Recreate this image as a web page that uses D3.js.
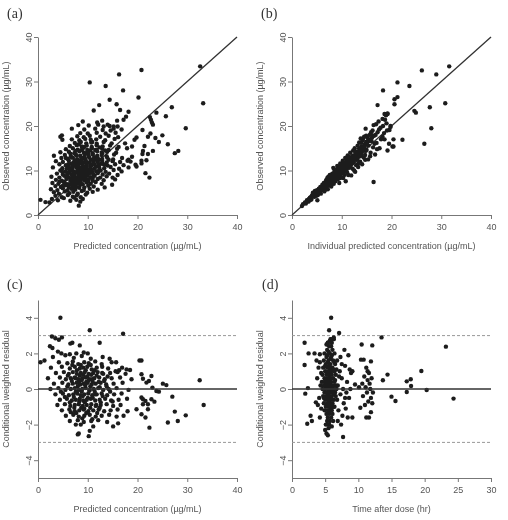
<!DOCTYPE html>
<html lang="en">
<head>
  <meta charset="UTF-8">
  <title>Goodness-of-fit plots</title>
  <script src="https://d3js.org/d3.v7.min.js"></script>
  <style>
    body { margin: 0; background: #fff; }
    .axis path, .axis line { stroke: #777; stroke-width: 1; }
    .axis text { fill: #555; font-family: "Liberation Sans", Arial, sans-serif; font-size: 9px; }
    .title { fill: #555; font-family: "Liberation Sans", Arial, sans-serif; font-size: 9px; }
    .letter { fill: #333; font-family: "Liberation Serif", "Times New Roman", serif; font-size: 14px; }
    .pt { fill: #1e1e1e; }
  </style>
</head>
<body>
<script>
// tick labels
var concTicks = [0, 10, 20, 30, 40];
var cwresTicks = [-4, -2, 0, 2, 4];
var timeTicks = [0, 5, 10, 15, 20, 25, 30];

// (a) predicted vs observed concentration
var panelA = [
  [0.5,3.4],[1.5,2.9],[2.3,2.8],[8.2,2.1],[8.5,3.0],[7.7,3.4],
  [2.8,3.6],[4.0,3.3],[5.2,3.8],[6.5,3.2],[7.3,3.9],[9.0,3.6],
  [3.5,4.3],[4.8,4.0],[6.0,4.5],[7.0,4.1],[7.8,4.4],[8.6,4.0],[9.6,4.6],
  [3.2,5.1],[4.2,4.8],[5.4,5.3],[6.3,4.9],[7.1,5.2],[8.0,4.8],[8.8,5.4],[9.9,5.0],[11.0,5.2],
  [2.6,5.8],[3.9,5.6],[5.0,6.0],[5.9,5.5],[6.7,5.9],[7.5,5.7],[8.3,6.1],[9.2,5.6],[10.4,5.9],[12.0,5.7],
  [3.5,6.5],[4.6,6.3],[5.5,6.7],[6.2,6.2],[7.0,6.6],[7.7,6.3],[8.5,6.8],[9.3,6.2],[10.1,6.6],[11.2,6.4],[13.4,6.2],
  [2.9,7.2],[4.1,7.0],[5.2,7.4],[6.0,6.9],[6.8,7.3],[7.5,7.0],[8.2,7.4],[9.0,6.9],[9.8,7.3],[10.6,7.0],[11.6,7.4],[12.8,7.0],[14.9,6.8],
  [3.6,7.9],[4.8,7.7],[5.7,8.1],[6.5,7.7],[7.2,8.0],[7.9,7.7],[8.6,8.1],[9.4,7.8],[10.2,8.0],[11.0,7.7],[12.0,8.1],[13.2,7.8],[15.5,8.0],
  [2.7,8.6],[4.3,8.4],[5.3,8.8],[6.1,8.4],[6.9,8.7],[7.6,8.3],[8.3,8.7],[9.0,8.4],[9.7,8.8],[10.5,8.5],[11.4,8.8],[12.5,8.4],[13.8,8.7],[15.0,8.4],
  [3.8,9.3],[5.0,9.1],[5.9,9.4],[6.7,9.1],[7.4,9.4],[8.1,9.0],[8.8,9.3],[9.5,9.0],[10.3,9.4],[11.1,9.1],[12.0,9.4],[13.0,9.1],[14.3,9.3],[16.0,9.0],
  [4.5,10.0],[5.5,9.8],[6.4,10.1],[7.2,9.7],[7.9,10.0],[8.6,9.7],[9.3,10.1],[10.0,9.8],[10.8,10.1],[11.7,9.8],[12.6,10.0],[13.6,9.7],[15.2,10.1],[16.8,9.8],
  [3.0,10.7],[4.9,10.5],[6.0,10.8],[6.9,10.4],[7.7,10.7],[8.4,10.4],[9.1,10.8],[9.8,10.5],[10.6,10.8],[11.4,10.4],[12.3,10.7],[13.3,10.5],[14.6,10.8],[16.3,10.4],[18.2,10.7],
  [4.3,11.4],[5.6,11.2],[6.6,11.5],[7.4,11.1],[8.2,11.4],[9.0,11.2],[9.8,11.5],[10.5,11.1],[11.3,11.4],[12.1,11.2],[13.0,11.5],[14.0,11.1],[15.5,11.4],[17.2,11.2],
  [3.6,12.1],[5.0,11.9],[6.2,12.2],[7.1,11.8],[8.0,12.1],[8.8,11.9],[9.6,12.2],[10.4,11.8],[11.2,12.1],[12.0,11.9],[12.9,12.2],[13.8,11.8],[15.0,12.1],[16.5,11.9],[18.0,12.2],
  [4.7,12.8],[6.0,12.6],[7.0,12.9],[7.9,12.5],[8.7,12.8],[9.5,12.6],[10.3,12.9],[11.1,12.5],[12.0,12.8],[12.9,12.6],[13.9,12.9],[15.1,12.5],[16.9,12.8],
  [3.2,13.3],[5.4,13.5],[6.6,13.2],[7.6,13.6],[8.5,13.3],[9.4,13.5],[10.2,13.2],[11.0,13.6],[11.9,13.3],[12.8,13.5],[13.8,13.2],[15.3,13.6],
  [4.5,14.1],[6.2,14.2],[7.3,13.9],[8.3,14.3],[9.2,14.0],[10.1,14.2],[11.0,13.9],[11.9,14.3],[12.8,14.0],[13.9,14.2],[15.7,14.0],
  [5.6,14.8],[7.0,15.0],[8.0,14.7],[9.0,14.9],[9.9,14.6],[10.8,15.0],[11.8,14.7],[12.9,14.9],[14.2,14.6],[15.9,14.9],
  [6.4,15.5],[7.8,15.7],[8.8,15.4],[9.8,15.6],[10.8,15.3],[11.8,15.7],[13.0,15.4],[14.5,15.6],[16.2,15.3],
  [7.4,16.2],[8.6,16.4],[9.7,16.1],[10.7,16.3],[11.8,16.0],[13.2,16.4],[14.8,16.1],
  [4.9,16.9],[6.8,17.0],[8.3,16.8],[9.5,17.1],[10.6,16.9],[11.7,17.0],[13.5,16.8],[15.4,17.1],
  [4.5,17.6],[4.8,17.9],[7.9,17.7],[9.2,17.5],[10.4,17.8],[12.5,17.6],[14.2,17.8],[16.1,17.5],
  [8.5,18.4],[10.0,18.3],[11.8,18.5],[13.6,18.3],[15.6,18.5],
  [6.8,19.4],[9.3,19.2],[11.5,19.4],[13.0,19.1],[15.2,19.4],[16.8,19.2],
  [8.1,20.2],[10.2,20.1],[12.1,20.3],[14.4,20.0],
  [9.0,21.0],[11.9,20.8],
  [7.8,9.6],[8.3,8.9],[8.9,10.3],[7.3,8.6],[9.4,9.5],[8.0,10.9],[8.7,8.1],[7.0,9.9],[9.6,10.9],[8.4,11.8],[7.6,7.6],[10.0,9.0],[6.6,8.0],[9.2,11.8],[8.1,7.0],
  [6.3,9.6],[7.0,11.0],[7.9,8.2],[8.5,10.6],[9.2,9.8],[9.9,11.8],[10.6,12.4],[11.3,13.0],[10.9,9.6],[8.9,12.7],
  [7.4,12.3],[6.1,11.4],[6.8,8.2],[5.4,7.2],[5.8,10.4],[9.6,8.3],[10.3,10.2],[11.6,10.9],[12.3,12.4],[12.9,13.9],
  [11.5,14.6],[10.5,14.5],[9.5,13.9],[8.8,14.6],[7.8,13.3],[6.8,12.9],[5.6,12.8],[4.9,9.7],[4.3,7.5],[5.0,6.6],
  [6.3,6.8],[7.4,6.0],[8.6,7.4],[9.2,8.7],[10.1,7.5],[11.0,8.3],[12.2,9.9],[13.4,11.3],[14.2,12.4],[13.5,14.5],
  [12.4,15.2],[10.9,16.4],[9.3,15.3],[8.2,15.9],[7.5,14.4],[6.5,13.8],[5.9,8.9],[7.1,7.6],[8.0,8.5],[8.6,9.0],
  [9.0,10.0],[9.8,10.9],[10.7,11.3],[11.8,12.5],[7.7,11.5],[6.4,10.6],[8.3,12.2],[9.3,12.9],[10.1,13.7],[12.6,11.5],
  [10.4,29.8],[16.3,31.6],[20.8,32.6],[13.6,29.0],[17.1,28.0],[32.6,33.4],[33.2,25.1],[29.7,19.5],[26.9,24.2],[20.2,26.4],
  [14.4,25.9],[15.8,24.9],[12.3,24.7],[11.2,23.5],[25.7,22.2],[23.8,23.0],[27.5,13.9],[28.2,14.4],[26.1,15.9],[25.0,17.9],
  [24.3,16.4],[22.6,18.3],[22.1,17.6],[21.0,19.1],[22.5,22.0],[22.7,21.4],[22.9,20.8],[23.1,20.3],[20.8,11.6],[22.4,8.4],
  [21.6,9.4],[21.8,12.3],[21.0,13.7],[21.1,14.4],[21.4,15.5],[23.1,14.4],[22.1,13.7],[20.8,12.2],[19.8,17.4],[19.8,10.9],
  [19.6,11.3],[18.9,13.1],[19.4,16.9],[18.9,15.4],[18.2,12.4],[18.6,12.0],[17.9,15.0],[17.5,16.1],[17.7,22.1],[17.2,21.4],
  [18.2,23.2],[16.5,23.6],[15.9,21.2],[16.0,19.9],[15.2,19.9],[14.6,19.0],[14.0,20.3],[13.2,19.9],[12.9,21.2],[23.6,17.3]
];

// (b) individual predicted vs observed concentration
var panelB = [
  [2.2,2.4],[2.6,2.8],[3.0,3.3],[3.3,3.0],[3.6,3.9],[3.9,3.5],[4.0,4.4],[4.2,5.0],[4.5,4.1],[4.8,4.9],
  [5.0,5.6],[5.1,3.3],[5.2,4.5],[5.4,5.9],[5.5,5.2],[5.7,6.3],[5.8,4.8],[6.0,5.6],[6.1,6.8],[6.3,6.0],
  [6.4,7.2],[6.5,5.3],[6.6,6.5],[6.8,7.6],[6.9,6.1],[7.0,7.0],[7.1,8.3],[7.2,5.8],[7.3,7.4],[7.4,6.6],
  [7.5,8.0],[7.6,9.0],[7.7,7.2],[7.8,8.5],[7.9,6.4],[8.0,7.8],[8.1,9.3],[8.2,8.2],[8.3,10.6],[8.4,7.0],
  [8.5,8.8],[8.6,9.7],[8.7,7.6],[8.8,10.2],[8.9,8.4],[9.0,9.0],[9.1,11.0],[9.2,8.0],[9.3,9.6],[9.4,10.5],
  [9.5,7.2],[9.6,9.2],[9.7,11.6],[9.8,8.6],[9.9,10.0],[10.0,10.8],[10.1,9.4],[10.2,12.2],[10.3,8.3],[10.4,10.4],
  [10.5,11.4],[10.6,9.8],[10.7,12.8],[10.8,7.6],[10.9,11.0],[11.0,10.2],[11.1,12.0],[11.2,13.4],[11.3,9.0],[11.4,11.6],
  [11.5,10.6],[11.6,12.6],[11.7,14.0],[11.8,11.2],[11.9,8.9],[12.0,12.2],[12.1,13.2],[12.2,10.4],[12.3,14.5],[12.4,11.8],
  [12.5,12.8],[12.6,15.0],[12.7,9.7],[12.8,13.6],[12.9,11.2],[13.0,14.2],[13.1,12.4],[13.2,15.6],[13.3,10.8],[13.4,13.2],
  [13.5,16.3],[13.6,14.8],[13.7,12.0],[13.8,17.2],[13.9,13.8],[14.0,15.4],[14.1,11.4],[14.2,16.8],[14.3,14.4],[14.4,12.9],
  [14.5,17.6],[14.6,15.9],[14.7,13.5],[14.8,19.4],[14.9,16.4],[15.0,14.6],[15.2,17.3],[15.3,12.5],[15.4,15.6],[15.6,18.0],
  [15.8,14.0],[16.0,16.6],[16.2,19.0],[16.3,15.2],[16.5,17.8],[16.7,13.6],[16.9,20.4],[17.0,16.2],[17.2,18.6],[17.4,21.0],
  [17.6,15.0],[17.8,19.6],[18.0,17.2],[18.2,21.6],[18.5,18.4],[18.8,22.6],[19.0,20.6],[19.2,22.8],[19.5,16.0],
  [2.0,2.0],[2.8,2.6],[3.4,3.6],[3.8,4.0],[4.3,4.6],[4.6,5.4],[4.9,4.3],[5.3,5.4],[5.6,5.8],[5.9,6.0],
  [6.2,6.4],[6.5,6.9],[6.7,5.7],[6.9,7.9],[7.1,6.8],[7.3,8.6],[7.5,7.6],[7.7,6.9],[7.9,8.8],[8.1,7.4],
  [8.3,9.0],[8.5,10.2],[8.7,8.1],[8.9,9.5],[9.1,8.7],[9.3,10.9],[9.5,9.8],[9.7,8.3],[9.9,11.2],[10.1,10.3],
  [10.3,11.8],[10.5,9.0],[10.7,10.6],[10.9,12.4],[11.1,9.5],[11.3,11.8],[11.5,13.0],[11.7,10.8],[11.9,12.8],[12.1,11.6],
  [12.3,13.4],[12.5,10.0],[12.7,14.2],[12.9,12.4],[13.1,13.8],[13.3,11.6],[13.5,15.0],[13.7,13.2],[13.9,16.2],[14.1,14.6],
  [14.3,17.2],[14.5,15.2],[14.7,12.4],[14.9,17.8],[15.1,15.8],[15.5,16.9],[15.7,13.2],[15.9,18.6],[16.1,17.4],[16.4,20.2],
  [16.6,16.0],[16.8,18.0],[17.1,14.8],[17.5,19.2],[17.9,17.0],[18.3,20.0],[18.7,21.4],[19.1,19.0],[19.8,19.8],[20.2,15.4],
  [9.6,10.4],[10.2,11.0],[9.0,9.7],[10.8,11.6],[11.6,11.9],[8.4,9.4],[10.5,10.2],[11.0,12.5],[12.2,12.6],[9.8,9.4],
  [6.6,7.0],[7.0,7.5],[7.4,7.9],[7.8,8.0],[8.2,8.6],[8.6,9.1],[9.0,9.4],[9.4,9.9],[9.8,10.5],[10.2,10.8],
  [10.6,11.2],[11.0,11.5],[11.4,12.2],[11.8,12.4],[12.2,13.0],[12.6,13.3],[13.0,13.5],[13.4,14.1],[13.8,14.5],[14.2,15.1],
  [14.6,15.6],[15.0,16.2],[15.4,16.6],[15.8,17.0],[16.2,17.8],[6.8,6.5],[7.6,7.0],[8.4,8.2],[9.2,9.0],[10.0,9.7],
  [10.8,10.4],[11.6,11.0],[12.4,11.9],[13.2,12.8],[14.0,13.6],[14.8,14.4],[5.4,5.0],[5.0,5.1],[4.4,4.2],[3.6,3.3],
  [31.6,33.4],[26.1,32.5],[29.0,31.6],[21.2,29.8],[23.6,29.0],[18.3,28.0],[21.2,26.5],[20.6,26.0],[20.6,24.9],[17.2,24.7],
  [24.6,23.4],[24.9,23.0],[27.7,24.2],[30.8,25.1],[28.0,19.5],[26.6,16.0],[22.2,16.9],[20.4,17.0],[20.4,15.4],[19.2,14.5],
  [16.4,7.4],[18.6,22.7],[18.9,22.4],[19.2,22.7],[19.8,20.0],[19.6,19.1],[18.2,17.6],[18.6,17.0]
];

// (c) predicted concentration vs CWRES
var panelC = [
  [3.0,1.8],[5.5,1.9],[7.2,1.75],[8.8,1.85],[10.6,1.7],[13.0,1.8],
  [4.2,1.5],[5.9,1.45],[7.0,1.55],[8.1,1.4],[9.3,1.5],[10.2,1.45],[11.5,1.55],[12.8,1.4],[14.8,1.5],
  [2.6,1.2],[4.8,1.25],[6.4,1.15],[7.4,1.25],[8.4,1.15],[9.1,1.2],[9.9,1.25],[10.8,1.1],[11.8,1.2],[12.9,1.25],[14.1,1.15],[16.9,1.2],
  [3.6,0.9],[5.2,0.95],[6.2,0.85],[7.0,0.95],[7.8,0.85],[8.6,0.9],[9.4,0.95],[10.2,0.85],[11.1,0.9],[12.0,0.95],[13.1,0.85],[14.5,0.9],[16.0,0.95],[17.6,0.85],
  [2.0,0.6],[4.4,0.65],[5.6,0.55],[6.6,0.6],[7.4,0.65],[8.1,0.55],[8.9,0.6],[9.6,0.65],[10.4,0.55],[11.3,0.6],[12.3,0.65],[13.4,0.55],[14.8,0.6],[16.5,0.65],[18.8,0.55],
  [3.2,0.3],[4.9,0.35],[6.1,0.25],[7.0,0.3],[7.8,0.35],[8.5,0.25],[9.2,0.3],[10.0,0.35],[10.8,0.25],[11.6,0.3],[12.6,0.35],[13.7,0.25],[15.2,0.3],[17.0,0.35],
  [2.5,0.0],[4.1,0.05],[5.5,-0.05],[6.6,0.0],[7.4,0.05],[8.2,-0.05],[8.9,0.0],[9.6,0.05],[10.4,-0.05],[11.2,0.0],[12.1,0.05],[13.1,-0.05],[14.2,0.0],[15.8,0.05],[18.2,-0.05],
  [3.5,-0.3],[5.0,-0.25],[6.2,-0.35],[7.1,-0.3],[7.9,-0.25],[8.6,-0.35],[9.3,-0.3],[10.1,-0.25],[10.9,-0.35],[11.8,-0.3],[12.8,-0.25],[13.9,-0.35],[15.3,-0.3],[16.8,-0.25],
  [4.4,-0.6],[5.8,-0.55],[6.8,-0.65],[7.6,-0.6],[8.4,-0.55],[9.1,-0.65],[9.8,-0.6],[10.6,-0.55],[11.5,-0.65],[12.4,-0.6],[13.5,-0.55],[14.7,-0.65],[16.2,-0.6],[17.9,-0.55],
  [3.9,-0.9],[5.4,-0.85],[6.5,-0.95],[7.4,-0.9],[8.2,-0.85],[9.0,-0.95],[9.8,-0.9],[10.7,-0.85],[11.6,-0.95],[12.6,-0.9],[13.8,-0.85],[15.1,-0.95],[16.6,-0.9],
  [4.8,-1.2],[6.3,-1.15],[7.4,-1.25],[8.3,-1.2],[9.2,-1.15],[10.1,-1.25],[11.1,-1.2],[12.2,-1.15],[13.3,-1.25],[14.6,-1.2],[16.0,-1.15],[18.0,-1.25],
  [5.6,-1.5],[7.1,-1.45],[8.2,-1.55],[9.3,-1.5],[10.4,-1.45],[11.6,-1.55],[12.8,-1.5],[14.3,-1.45],[15.8,-1.55],[17.2,-1.5],
  [6.4,-1.8],[8.0,-1.75],[9.2,-1.85],[10.7,-1.8],[12.1,-1.75],[13.9,-1.85],
  [9.5,0.2],[10.3,-0.1],[8.8,0.5],[11.0,0.4],[9.0,-0.4],[10.7,0.8],[8.3,-0.7],[11.5,-0.3],[9.9,0.7],[12.4,0.1],
  [6.8,0.45],[7.6,-0.15],[8.4,0.75],[9.4,-0.75],[10.2,0.5],[11.0,-0.5],[11.8,0.75],[12.6,-0.75],[13.3,0.45],[7.2,-0.45],
  [8.0,0.15],[8.8,-0.15],[9.7,0.4],[10.5,0.15],[11.4,-0.15],[12.2,0.4],[13.0,-0.4],[6.0,0.75],[5.4,-0.45],[6.4,-0.75],
  [7.8,1.05],[8.7,-1.05],[9.6,1.05],[10.5,-1.05],[11.4,1.05],[12.4,-1.05],[7.3,-1.05],[6.9,1.35],[8.6,1.35],[10.6,1.35],
  [9.7,-1.35],[11.9,-1.35],[8.9,-1.65],[10.9,-1.7],[7.7,-1.35],[5.9,0.15],[4.6,-0.15],[13.8,0.15],[14.5,-0.15],[15.0,-0.7],
  [14.0,0.7],[9.1,0.8],[10.0,-0.5],[10.9,0.55],[8.3,0.35],[7.6,0.6],[9.3,-1.1],[11.7,-0.9],[12.9,0.9],[6.6,-1.3],
  [4.5,4.0],[10.4,3.3],[17.1,3.1],[12.4,2.6],[2.8,2.95],[3.5,2.85],[4.2,2.77],[4.8,2.9],[2.4,2.4],[2.9,2.3],
  [0.5,1.5],[1.3,1.6],[6.5,2.55],[6.9,2.6],[8.4,2.45],[4.0,2.1],[4.7,2.0],[6.4,1.95],[7.7,2.0],[9.2,2.05],[10.0,2.0],
  [14.4,1.7],[15.7,1.5],[16.3,1.05],[15.6,1.0],[17.8,1.1],[18.5,1.07],
  [8.0,-2.55],[8.2,-2.5],[10.4,-2.35],[10.2,-2.65],[7.6,-2.0],[8.6,-2.0],[11.1,-2.1],[15.1,-2.1],[16.1,-1.93],
  [20.4,1.6],[20.8,1.6],[20.8,0.83],[21.1,0.58],[21.8,0.36],[22.3,0.45],[22.8,0.73],[25.1,0.3],[25.8,0.22],[32.5,0.49],
  [33.3,-0.9],[27.0,-0.43],[23.0,0.08],[23.8,-0.11],[24.3,-0.15],[20.8,-0.48],[21.1,-0.58],[21.6,-0.67],[22.8,-0.58],[23.4,-0.71],
  [19.8,-1.14],[20.8,-1.42],[21.6,-1.6],[22.1,-1.14],[22.4,-2.17],[27.5,-1.27],[28.1,-1.8],[29.7,-1.48],[26.1,-1.88],[21.1,-0.86],[22.1,-0.86]
];

// (d) time after dose vs CWRES
var panelD = [
  [5.8,2.8],[6.3,2.8],[5.4,2.6],[6.0,2.6],[5.6,2.4],[5.3,2.2],[6.1,2.2],[5.7,2.0],[6.4,2.0],[4.9,2.0],
  [5.2,1.8],[5.9,1.8],[4.8,1.6],[5.5,1.6],[6.2,1.6],[5.1,1.4],[5.8,1.4],[6.5,1.4],
  [4.7,1.2],[5.3,1.2],[5.7,1.2],[6.1,1.2],[5.0,1.0],[5.5,1.0],[5.9,1.0],[6.4,1.0],
  [4.6,0.8],[5.2,0.8],[5.6,0.8],[6.0,0.8],[6.6,0.8],[4.9,0.6],[5.4,0.6],[5.8,0.6],[6.2,0.6],
  [4.5,0.4],[5.1,0.4],[5.5,0.4],[5.9,0.4],[6.4,0.4],[4.8,0.2],[5.3,0.2],[5.7,0.2],[6.1,0.2],[6.6,0.2],
  [4.6,0.0],[5.0,0.0],[5.5,0.0],[5.9,0.0],[6.3,0.0],[4.9,-0.2],[5.3,-0.2],[5.7,-0.2],[6.1,-0.2],[6.5,-0.2],
  [4.7,-0.4],[5.2,-0.4],[5.6,-0.4],[6.0,-0.4],[5.0,-0.6],[5.4,-0.6],[5.8,-0.6],[6.3,-0.6],
  [4.8,-0.8],[5.3,-0.8],[5.7,-0.8],[6.1,-0.8],[5.1,-1.0],[5.5,-1.0],[5.9,-1.0],[6.4,-1.0],
  [4.9,-1.2],[5.4,-1.2],[5.8,-1.2],[5.2,-1.4],[5.6,-1.4],[6.1,-1.4],[5.4,-1.6],[5.9,-1.6],
  [5.3,-1.8],[6.2,-1.8],[5.6,-2.0],[5.1,-2.0],[5.5,-2.2],
  [5.45,0.5],[5.65,-0.1],[5.75,0.9],[5.35,-0.5],[5.85,-1.1],[5.55,1.3],[5.95,0.1],[5.25,0.3],[5.65,-0.7],[5.8,1.7],
  [5.3,0.9],[5.7,0.3],[5.5,-0.3],[5.9,-0.5],[5.2,-0.9],[5.6,-1.3],[5.8,1.1],[5.4,1.5],[6.0,1.9],[5.3,1.9],
  [6.2,1.1],[6.3,-0.3],[6.0,-1.2],[5.1,-0.2],[4.9,0.4],[5.5,2.1],[5.7,-1.8],[5.4,-2.0],[6.0,-2.1],[5.9,2.4],
  [6.5,0.5],[6.6,-0.4],[6.2,-1.0],[4.8,-0.5],[5.6,0.6],[5.8,-0.1],[5.2,0.1],[6.4,1.5],[6.7,0.0],[5.0,1.3],
  [5.9,4.0],[5.6,3.3],[7.1,3.15],[6.3,2.9],[5.9,2.8],[5.7,2.7],[5.2,2.5],[5.4,2.6],[5.2,-2.5],[5.0,-2.3],[5.4,-2.6],[7.7,-2.7],
  [6.8,1.6],[7.2,1.0],[7.5,0.6],[6.9,0.2],[7.3,-0.3],[7.8,-0.8],[7.0,-1.2],[7.6,-1.5],[8.0,1.3],[8.3,0.4],
  [8.6,-0.5],[8.1,-1.1],[8.9,0.9],[8.5,1.9],[7.9,2.2],[6.9,-1.8],[7.4,-2.0],[8.4,-1.6],[9.1,-1.6],[8.8,0.0],
  [7.7,0.0],[7.1,0.7],[6.8,-0.6],[8.2,-0.2],[7.5,1.4],[8.7,1.1],[9.1,1.0],[9.5,0.25],[10.1,0.1],[6.7,1.1],[7.3,1.8],[8.0,-0.5],
  [1.9,2.6],[1.9,1.35],[2.5,2.0],[3.4,2.0],[4.2,1.95],[2.0,-0.26],[2.4,0.05],[2.3,-1.95],[2.8,-1.5],[3.0,-1.8],
  [3.6,-0.75],[3.9,-0.9],[4.2,1.5],[4.0,1.2],[3.8,0.6],[4.3,0.2],[4.1,-0.5],[4.4,-1.1],[4.2,-1.6],[3.7,1.6],[4.4,0.9],
  [10.5,2.5],[12.1,2.45],[10.4,1.65],[10.8,1.65],[11.9,1.55],[11.2,1.2],[11.6,0.9],[10.9,0.7],[11.4,0.5],[12.0,0.6],
  [10.6,0.3],[11.1,0.1],[11.8,0.0],[11.3,-0.2],[10.7,-0.4],[11.9,-0.5],[11.5,-0.7],[11.0,-0.9],[12.1,-0.8],[10.3,-1.05],
  [11.2,-1.6],[11.6,-1.6],[11.9,-1.3],[11.7,0.3],[12.2,-0.2],[11.4,1.0],
  [13.5,2.9],[23.2,2.38],[13.7,0.49],[14.4,0.81],[15.0,-0.43],[15.6,-0.67],[17.3,0.43],[17.9,0.55],[17.95,0.17],[17.3,-0.17],
  [19.5,1.01],[20.3,-0.06],[24.35,-0.54]
];

var W = 199, H = 178;

var panels = [
  {letter: "(a)", lx: 7, ly: 18, left: 38, top: 37, data: panelA,
   xDomain: [0, 40], yDomain: [0, 40], xTicks: concTicks, yTicks: concTicks,
   xTitle: "Predicted concentration (\u00b5g/mL)", yTitle: "Observed concentration (\u00b5g/mL)", kind: "identity"},
  {letter: "(b)", lx: 261, ly: 18, left: 292, top: 37, data: panelB,
   xDomain: [0, 40], yDomain: [0, 40], xTicks: concTicks, yTicks: concTicks,
   xTitle: "Individual predicted concentration (\u00b5g/mL)", yTitle: "Observed concentration (\u00b5g/mL)", kind: "identity"},
  {letter: "(c)", lx: 7, ly: 289, left: 38, top: 300, data: panelC,
   xDomain: [0, 40], yDomain: [-5, 5], xTicks: concTicks, yTicks: cwresTicks,
   xTitle: "Predicted concentration (\u00b5g/mL)", yTitle: "Conditional weighted residual", kind: "resid"},
  {letter: "(d)", lx: 262, ly: 289, left: 292, top: 300, data: panelD,
   xDomain: [0, 30], yDomain: [-5, 5], xTicks: timeTicks, yTicks: cwresTicks,
   xTitle: "Time after dose (hr)", yTitle: "Conditional weighted residual", kind: "resid"}
];

var svg = d3.select("body").append("svg")
  .attr("width", 508)
  .attr("height", 520);

// soft look of the scanned figure
svg.append("defs").append("filter").attr("id", "soft")
  .append("feGaussianBlur").attr("stdDeviation", 0.35);
var root = svg.append("g").attr("filter", "url(#soft)");
root.append("rect").attr("width", 508).attr("height", 520).attr("fill", "#fff");

panels.forEach(function(p) {
  var x = d3.scaleLinear().domain(p.xDomain).range([0, W]);
  var y = d3.scaleLinear().domain(p.yDomain).range([H, 0]);

  root.append("text").attr("class", "letter")
    .attr("x", p.lx).attr("y", p.ly).text(p.letter);

  var g = root.append("g").attr("transform", "translate(" + p.left + "," + p.top + ")");

  // axes (R style: L box, outward ticks, rotated y labels)
  g.append("g").attr("class", "axis")
    .attr("transform", "translate(0," + H + ")")
    .call(d3.axisBottom(x).tickValues(p.xTicks).tickSize(4).tickSizeOuter(0).tickPadding(5));

  var ya = g.append("g").attr("class", "axis")
    .call(d3.axisLeft(y).tickValues(p.yTicks).tickSize(4).tickSizeOuter(0));
  ya.selectAll(".tick text")
    .attr("transform", "rotate(-90)")
    .attr("x", 0).attr("y", -6).attr("dy", 0)
    .attr("text-anchor", "middle");

  g.append("text").attr("class", "title")
    .attr("x", W / 2).attr("y", H + 34)
    .attr("text-anchor", "middle").text(p.xTitle);
  g.append("text").attr("class", "title")
    .attr("transform", "translate(-29," + (H / 2) + ") rotate(-90)")
    .attr("text-anchor", "middle").text(p.yTitle);

  // reference lines
  if (p.kind === "identity") {
    g.append("line")
      .attr("x1", x(0)).attr("y1", y(0)).attr("x2", x(40)).attr("y2", y(40))
      .attr("stroke", "#333").attr("stroke-width", 1.3);
  } else {
    [3, -3].forEach(function(v) {
      g.append("line")
        .attr("x1", 0).attr("x2", W).attr("y1", y(v)).attr("y2", y(v))
        .attr("stroke", "#999").attr("stroke-width", 1).attr("stroke-dasharray", "3,2");
    });
  }

  g.selectAll(".pt").data(p.data).enter().append("circle")
    .attr("class", "pt")
    .attr("cx", function(d) { return x(d[0]); })
    .attr("cy", function(d) { return y(d[1]); })
    .attr("r", 2.2);

  if (p.kind === "resid") {
    g.append("line")
      .attr("x1", 0).attr("x2", W).attr("y1", y(0)).attr("y2", y(0))
      .attr("stroke", "#333").attr("stroke-width", 1.5);
  }
});
</script>
</body>
</html>
